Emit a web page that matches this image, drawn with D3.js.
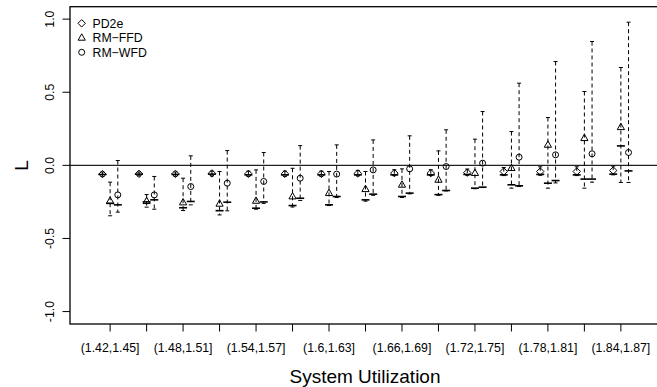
<!DOCTYPE html>
<html><head><meta charset="utf-8">
<script src="https://cdn.jsdelivr.net/npm/d3@7"></script>
<style>html,body{margin:0;padding:0;background:#fff;}svg{display:block;font-family:"Liberation Sans",Arial,Helvetica,sans-serif;}</style>
</head><body>
<svg id="chart" width="657" height="387"></svg>
<script>
const categories = ["(1.42,1.45]","(1.45,1.48]","(1.48,1.51]","(1.51,1.54]","(1.54,1.57]","(1.57,1.6]","(1.6,1.63]","(1.63,1.66]","(1.66,1.69]","(1.69,1.72]","(1.72,1.75]","(1.75,1.78]","(1.78,1.81]","(1.81,1.84]","(1.84,1.87]"];
const seriesNames = ["PD2e","RM\u2212FFD","RM\u2212WFD"];
const yTicks = [-1.0, -0.5, 0.0, 0.5, 1.0];

// PD2e
const pd2eMean = [-0.060,-0.058,-0.058,-0.055,-0.058,-0.058,-0.058,-0.055,-0.053,-0.053,-0.050,-0.042,-0.042,-0.042,-0.035];
const pd2eMax  = [-0.045,-0.045,-0.045,-0.040,-0.040,-0.040,-0.040,-0.035,-0.030,-0.030,-0.025,-0.015,-0.010,-0.010,-0.005];
const pd2eMin  = [-0.075,-0.072,-0.075,-0.072,-0.075,-0.075,-0.075,-0.072,-0.070,-0.070,-0.068,-0.070,-0.068,-0.070,-0.065];
const pd2eMid  = [-0.062,-0.060,-0.062,-0.060,-0.065,-0.065,-0.065,-0.065,-0.065,-0.065,-0.062,-0.065,-0.062,-0.065,-0.060];
// RM-FFD
const ffdMean = [-0.243,-0.245,-0.254,-0.263,-0.243,-0.213,-0.190,-0.163,-0.133,-0.099,-0.053,-0.019,0.140,0.186,0.261];
const ffdMax  = [-0.115,-0.200,-0.088,-0.042,-0.031,-0.020,-0.042,-0.042,-0.024,0.099,0.179,0.231,0.327,0.505,0.669];
const ffdMin  = [-0.345,-0.286,-0.309,-0.339,-0.300,-0.285,-0.275,-0.245,-0.220,-0.205,-0.160,-0.156,-0.156,-0.156,-0.117];
const ffdMid  = [-0.260,-0.250,-0.290,-0.310,-0.293,-0.275,-0.270,-0.236,-0.213,-0.200,-0.156,-0.133,-0.122,-0.094,0.133];
// RM-WFD
const wfdMean = [-0.202,-0.202,-0.145,-0.122,-0.110,-0.088,-0.060,-0.031,-0.024,-0.008,0.015,0.056,0.072,0.079,0.088];
const wfdMax  = [0.033,-0.076,0.065,0.101,0.088,0.135,0.140,0.174,0.202,0.243,0.368,0.562,0.710,0.847,0.979];
const wfdMin  = [-0.320,-0.300,-0.270,-0.311,-0.260,-0.240,-0.220,-0.205,-0.195,-0.175,-0.152,-0.145,-0.120,-0.115,-0.117];
const wfdMid  = [-0.270,-0.236,-0.247,-0.252,-0.250,-0.225,-0.213,-0.197,-0.190,-0.172,-0.149,-0.140,-0.104,-0.094,-0.038];

const series = [
  {name: seriesNames[0], shape: "diamond", offset: -0.21, mean: pd2eMean, max: pd2eMax, min: pd2eMin, mid: pd2eMid},
  {name: seriesNames[1], shape: "triangle", offset: 0, mean: ffdMean, max: ffdMax, min: ffdMin, mid: ffdMid},
  {name: seriesNames[2], shape: "circle", offset: 0.21, mean: wfdMean, max: wfdMax, min: wfdMin, mid: wfdMid}
];

const svg = d3.select("#chart");
const box = {left: 70, right: 661, top: 6.7, bottom: 324};
const x = d3.scaleLinear().domain([-1.1, categories.length - 1 + 1.1]).range([box.left, box.right]);
const y = d3.scaleLinear().domain([-1.085, 1.085]).range([box.bottom, box.top]);

function drawSymbol(sel, shape, cx, cy) {
  if (shape === "circle") {
    return sel.append("circle").attr("cx", cx).attr("cy", cy).attr("r", 3)
      .attr("fill", "none").attr("stroke", "#000").attr("stroke-width", 1);
  }
  let d;
  if (shape === "diamond") { const r = 3.7; d = `M${cx},${cy-r}L${cx+r},${cy}L${cx},${cy+r}L${cx-r},${cy}Z`; }
  else { d = `M${cx},${cy-4}L${cx+3.6},${cy+2.4}L${cx-3.6},${cy+2.4}Z`; }
  return sel.append("path").attr("d", d).attr("fill", "none").attr("stroke", "#000").attr("stroke-width", 1);
}

// zero line
svg.append("line").attr("x1", box.left).attr("x2", box.right).attr("y1", y(0)).attr("y2", y(0))
  .attr("stroke", "#222").attr("stroke-width", 1.1);

// marks
const g = svg.append("g");
series.forEach(s => {
  categories.forEach((c, i) => {
    const cx = x(i + s.offset);
    g.append("line").attr("x1", cx).attr("x2", cx).attr("y1", y(s.max[i])).attr("y2", y(s.min[i]))
      .attr("stroke", "#000").attr("stroke-width", 1).attr("stroke-dasharray", "4,3");
    [s.max[i], s.min[i]].forEach(v => {
      g.append("line").attr("x1", cx - 2).attr("x2", cx + 2).attr("y1", y(v)).attr("y2", y(v))
        .attr("stroke", "#000").attr("stroke-width", 1);
    });
    g.append("line").attr("x1", cx - 4).attr("x2", cx + 4).attr("y1", y(s.mid[i])).attr("y2", y(s.mid[i]))
      .attr("stroke", "#000").attr("stroke-width", 1.6);
    drawSymbol(g, s.shape, cx, y(s.mean[i]));
  });
});

// box
svg.append("rect").attr("x", box.left).attr("y", box.top).attr("width", box.right - box.left).attr("height", box.bottom - box.top)
  .attr("fill", "none").attr("stroke", "#000").attr("stroke-width", 1.3);

// x axis ticks and labels (R drops overlapping labels: every other one shown)
categories.forEach((c, i) => {
  svg.append("line").attr("x1", x(i)).attr("x2", x(i)).attr("y1", box.bottom).attr("y2", box.bottom + 7.5)
    .attr("stroke", "#000").attr("stroke-width", 1);
  if (i % 2 === 0) {
    svg.append("text").attr("x", x(i)).attr("y", 351.5).attr("text-anchor", "middle")
      .attr("font-size", 12.3).text(c);
  }
});
// y axis ticks and labels
yTicks.forEach(v => {
  svg.append("line").attr("x1", box.left - 7.5).attr("x2", box.left).attr("y1", y(v)).attr("y2", y(v))
    .attr("stroke", "#000").attr("stroke-width", 1);
  svg.append("text").attr("transform", `translate(53.5,${y(v)}) rotate(-90)`).attr("text-anchor", "middle")
    .attr("font-size", 12.3).text(d3.format(".1f")(v).replace("\u2212", "-"));
});

// axis titles
svg.append("text").attr("x", 365).attr("y", 383).attr("text-anchor", "middle").attr("font-size", 19).text("System Utilization");
svg.append("text").attr("transform", `translate(28,${(box.top + box.bottom) / 2}) rotate(-90)`).attr("text-anchor", "middle")
  .attr("font-size", 19).text("L");

// legend
const legY = [23.3, 37.8, 52.3];
series.forEach((s, k) => {
  const lx = 81.7, ly = legY[k];
  drawSymbol(svg, s.shape, lx, ly);
  svg.append("text").attr("x", 92.5).attr("y", ly + 4.3).attr("font-size", 12.3).text(s.name);
});
</script>
</body></html>
